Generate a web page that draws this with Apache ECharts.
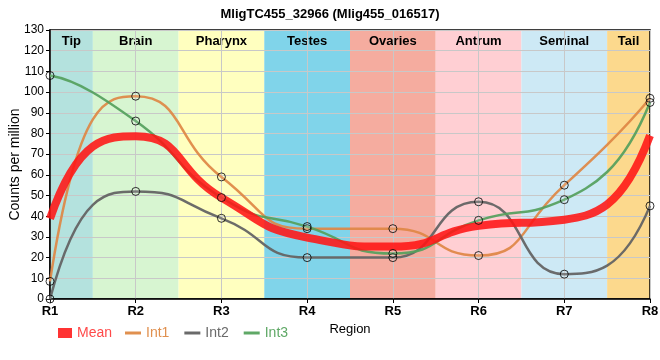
<!DOCTYPE html>
<html><head><meta charset="utf-8">
<script src="https://cdn.jsdelivr.net/npm/echarts@6/dist/echarts.min.js"></script>
<style>html,body{margin:0;padding:0;background:#fff}#c{width:660px;height:360px}</style>
</head><body><div id="c"></div>
<script>
var regions = ['R1','R2','R3','R4','R5','R6','R7','R8'];
var bandNames = ['Tip','Brain','Pharynx','Testes','Ovaries','Antrum','Seminal','Tail'];
var bandColors = ['#b4e2de','#d7f5d1','#ffffbf','#80d4ea','#f5ac9f','#ffcfd3','#cde9f5','#fcd98d'];
var int1 = [8.5, 98, 59, 34, 34, 21, 55, 97];
var int2 = [0, 52, 39, 20, 20, 47, 12, 45];
var int3 = [108, 86, 49, 35, 22, 38, 48, 95];
var mean = int1.map(function(v,i){return (v+int2[i]+int3[i])/3;});

var FONT = '"Liberation Sans",Arial,sans-serif';
function pts(arr){return arr.map(function(v,i){return [i+1, v];});}

// monotone tangents (Fritsch-Carlson style) at interior points
function sign(x){return x<0?-1:1;}
function tangents(ys){
  var n = ys.length, t = new Array(n).fill(0), s = [];
  for (var i=0;i<n-1;i++) s.push(ys[i+1]-ys[i]);
  for (var i=1;i<n-1;i++){
    var s0=s[i-1], s1=s[i], p=(s0+s1)/2;
    t[i] = (sign(s0)+sign(s1))*Math.min(Math.abs(s0),Math.abs(s1),0.5*Math.abs(p)) || 0;
  }
  return t;
}
function clampTo(v,a,b){var lo=Math.min(a,b), hi=Math.max(a,b); return Math.max(lo, Math.min(hi, v));}
var K = 0.55; // handle length (fraction of a region step) for inner segments
function curveSeries(name, arr, color, width, z){
  var t = tangents(arr), n = arr.length;
  return {
    name:name, type:'custom', data:pts(arr), itemStyle:{color:color}, z:z, silent:true,
    renderItem:function(params, api){
      if (params.dataIndex !== 0) return null;
      var p0 = api.coord([1, arr[0]]);
      var d = 'M' + p0[0] + ',' + p0[1];
      for (var i=0;i<n-1;i++){
        var xa, ya, xb, yb, x0=i+1, x1=i+2;
        if (i === 0){
          xa = x1-2/3; ya = arr[1]-2*t[1]/3; xb = x1-1/3; yb = arr[1]-t[1]/3;
        } else if (i === n-2){
          xa = x0+1/3; ya = arr[i]+t[i]/3; xb = x0+2/3; yb = arr[i]+2*t[i]/3;
        } else {
          xa = x0+K; ya = clampTo(arr[i]+K*t[i], arr[i], arr[i+1]);
          xb = x1-K; yb = clampTo(arr[i+1]-K*t[i+1], arr[i], arr[i+1]);
        }
        var a = api.coord([xa, ya]), b = api.coord([xb, yb]), c = api.coord([x1, arr[i+1]]);
        d += 'C'+a[0]+','+a[1]+','+b[0]+','+b[1]+','+c[0]+','+c[1];
      }
      return {type:'path', shape:{pathData:d},
        style:{fill:null, stroke:color, lineWidth:width, lineJoin:'round'}};
    }
  };
}
function pointSeries(name, arr){
  return {name:name, type:'scatter', data:pts(arr), symbol:'circle', symbolSize:8, z:6, silent:true,
    itemStyle:{color:'rgba(255,255,255,0.15)', borderColor:'#000', borderWidth:1}};
}

var bands = bandNames.map(function(n,i){
  var x0 = i===0 ? 1 : i+0.5, x1 = i===bandNames.length-1 ? bandNames.length : i+1.5;
  return [{xAxis:x0, name:n, itemStyle:{color:bandColors[i]}}, {xAxis:x1}];
});

var C_MEAN='rgba(255,20,20,0.88)', C1='rgba(222,135,68,0.92)', C2='rgba(100,100,100,0.95)', C3='rgba(84,160,92,0.92)';

var chart = echarts.init(document.getElementById('c'));
chart.setOption({
  animation:false,
  textStyle:{fontFamily:FONT},
  title:{text:'MligTC455_32966 (Mlig455_016517)', left:'center', top:3,
    textStyle:{fontSize:13, fontWeight:'bold', color:'#000', fontFamily:FONT}},
  grid:{left:50, right:10, top:30, bottom:61, show:true, borderColor:'#000', borderWidth:1.5,
    backgroundColor:'transparent', containLabel:false, outerBoundsMode:'none'},
  legend:[
    {left:53, top:321, itemWidth:14, itemHeight:10, textStyle:{fontSize:14, fontFamily:FONT},
      data:[{name:'Mean', icon:'rect', itemStyle:{color:'#ff3333', borderWidth:0}, textStyle:{color:'#ff4a4a'}}]},
    {left:120, top:321, itemWidth:16, itemHeight:3, itemGap:15, textStyle:{fontSize:14, fontFamily:FONT},
      data:[
        {name:'Int1', icon:'rect', itemStyle:{color:'#e0904f', borderWidth:0}, textStyle:{color:'#e0904f'}},
        {name:'Int2', icon:'rect', itemStyle:{color:'#6a6a6a', borderWidth:0}, textStyle:{color:'#6a6a6a'}},
        {name:'Int3', icon:'rect', itemStyle:{color:'#5fa866', borderWidth:0}, textStyle:{color:'#5fa866'}}
      ]}
  ],
  xAxis:{type:'value', min:1, max:8, interval:1,
    name:'Region', nameLocation:'middle', nameGap:24, nameMoveOverlap:false,
    nameTextStyle:{color:'#000', fontSize:13},
    axisLine:{lineStyle:{color:'#000', width:1.5}},
    axisTick:{show:true, length:4, lineStyle:{color:'#000'}},
    axisLabel:{color:'#000', fontSize:13, fontWeight:'bold', margin:6, formatter:function(v){return regions[v-1];}},
    splitLine:{show:true, lineStyle:{color:'#c8c8c8', width:1}}},
  yAxis:{type:'value', min:0, max:130, interval:10,
    name:'Counts per million', nameLocation:'middle', nameGap:28, nameMoveOverlap:false,
    nameTextStyle:{color:'#000', fontSize:14},
    axisLine:{show:true, lineStyle:{color:'#000', width:1.5}},
    axisTick:{show:true, length:4, lineStyle:{color:'#000'}},
    axisLabel:{color:'#000', fontSize:12, margin:6},
    splitLine:{show:true, lineStyle:{color:'#c8c8c8', width:1}}},
  series:[
    {name:'Bands', type:'line', data:[], silent:true, z:-1,
      markArea:{silent:true, z:-1, data:bands,
        label:{show:true, position:'insideTop', distance:5, color:'#000', fontSize:13, fontWeight:'bold', fontFamily:FONT}}},
    curveSeries('Int1', int1, C1, 2.5, 3),
    curveSeries('Int2', int2, C2, 2.5, 3),
    curveSeries('Int3', int3, C3, 2.5, 3),
    curveSeries('Mean', mean, C_MEAN, 8, 4),
    pointSeries('Int1', int1),
    pointSeries('Int2', int2),
    pointSeries('Int3', int3)
  ]
});
</script></body></html>
